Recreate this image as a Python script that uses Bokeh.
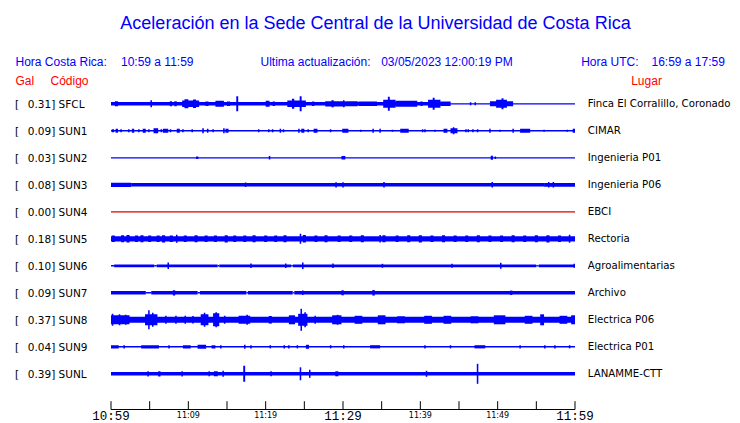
from bokeh.plotting import figure
from bokeh.models import Range1d, ColumnDataSource
from bokeh.core.properties import value
from bokeh.embed import file_html
from bokeh.resources import INLINE

# ---------------- data ----------------
title_text = "Aceleración en la Sede Central de la Universidad de Costa Rica"
hora_cr_label = "Hora Costa Rica:"
hora_cr_range = "10:59 a 11:59"
update_label = "Ultima actualización:"
update_value = "03/05/2023 12:00:19 PM"
hora_utc_label = "Hora UTC:"
hora_utc_range = "16:59 a 17:59"
col_gal = "Gal"
col_code = "Código"
col_place = "Lugar"

stations = ["SFCL", "SUN1", "SUN2", "SUN3", "SUN4", "SUN5",
            "SUN6", "SUN7", "SUN8", "SUN9", "SUNL"]
pga_gal = [0.31, 0.09, 0.03, 0.08, 0.00, 0.18, 0.10, 0.09, 0.37, 0.04, 0.39]
places = ["Finca El Corralillo, Coronado", "CIMAR", "Ingenieria P01",
          "Ingenieria P06", "EBCI", "Rectoria", "Agroalimentarias",
          "Archivo", "Electrica P06", "Electrica P01", "LANAMME-CTT"]

# time axis (minutes after 10:59)
tick_minutes = [0, 5, 10, 15, 20, 25, 30, 35, 40, 45, 50, 55, 60]
major_tick_minutes = [0, 30, 60]
major_tick_labels = ["10:59", "11:29", "11:59"]
minor_tick_minutes = [10, 20, 40, 50]
minor_tick_labels = ["11:09", "11:19", "11:39", "11:49"]

# trace envelopes: (start_min, end_min, half amplitude)
SFCL_base = [(0, 43.9, 1.8), (43.9, 60, 0.65)]
SFCL_bursts = [(0.5, 0.9, 2.5), (5.1, 5.3, 3.5), (7.6, 7.9, 2.5), (8.2, 8.5, 2.5),
               (9.2, 11.4, 3.2), (9.5, 10.0, 4.5), (10.6, 11.0, 4.3),
               (12.2, 12.6, 2.3), (13.5, 14.6, 3.0), (15.0, 15.4, 2.2), (16.2, 16.45, 7.5),
               (20.0, 20.5, 3.0), (20.9, 21.2, 2.3), (22.8, 25.2, 3.2), (23.4, 23.7, 5.0),
               (24.4, 24.65, 7.5), (26.0, 26.3, 2.2), (27.7, 30.3, 2.6), (28.5, 28.8, 3.5),
               (30.3, 31.9, 2.5), (30.0, 30.2, 3.5), (32.0, 34.4, 2.3), (35.2, 36.8, 4.0),
               (35.8, 36.05, 7.0), (36.8, 39.6, 3.0), (40.0, 40.3, 2.2), (41.0, 42.6, 4.0),
               (41.6, 41.85, 6.0), (42.6, 43.9, 2.2), (46.4, 46.6, 1.5), (47.0, 47.2, 1.5),
               (49.0, 52.0, 2.5), (49.8, 51.2, 4.0), (50.5, 50.75, 5.5)]

SUN1_base = [(0, 60, 0.7)]
SUN1_bursts = [(0.1, 0.4, 1.5), (0.6, 0.9, 2.0), (1.2, 1.4, 1.5), (2.2, 2.4, 1.5), (2.7, 3.0, 2.0),
               (3.5, 3.7, 1.5), (4.1, 4.5, 2.0), (4.8, 5.0, 1.5), (5.5, 6.1, 2.5), (6.4, 6.6, 1.5),
               (6.7, 7.4, 2.0), (7.6, 7.8, 1.5), (8.5, 8.9, 2.0), (9.2, 9.4, 1.5), (10.4, 10.6, 1.5),
               (11.8, 12.0, 2.5), (12.4, 12.6, 2.0), (13.1, 13.3, 1.5), (14.5, 14.7, 2.5),
               (14.8, 15.2, 2.0), (19.0, 19.2, 1.5), (20.3, 20.5, 1.5), (20.8, 21.0, 1.5),
               (21.8, 22.0, 2.0), (22.2, 22.4, 1.5), (24.2, 24.4, 2.0), (24.6, 25.0, 2.0),
               (25.4, 25.6, 1.5), (26.2, 26.7, 2.0), (28.3, 28.5, 1.5), (29.9, 30.7, 2.0),
               (32.2, 32.4, 1.0), (33.8, 34.0, 2.0), (34.7, 34.9, 2.0), (36.3, 36.5, 1.0),
               (37.4, 38.5, 2.0), (40.2, 40.4, 1.5), (40.5, 40.7, 1.5), (41.8, 42.0, 1.0),
               (43.0, 43.5, 2.0), (43.9, 44.8, 2.5), (44.2, 44.4, 3.5), (45.8, 46.0, 1.5),
               (46.1, 46.3, 1.5), (46.7, 46.9, 1.5), (47.3, 47.5, 1.5), (48.9, 49.1, 2.0),
               (50.2, 50.4, 1.0), (51.9, 52.1, 2.0), (52.9, 54.2, 2.0), (55.9, 56.1, 1.0),
               (58.9, 59.1, 1.0), (59.7, 60.0, 2.0)]

SUN2_base = [(0, 60, 0.65)]
SUN2_bursts = [(11.0, 11.3, 1.2), (20.4, 20.6, 1.8), (29.8, 30.3, 1.7),
               (49.1, 49.4, 2.0), (49.6, 49.8, 1.2)]

SUN3_base = [(0, 2.6, 2.1), (2.6, 56.0, 1.7), (56.0, 60, 1.9)]
SUN3_bursts = [(17.3, 17.5, 2.3), (29.0, 29.2, 2.6), (29.9, 30.1, 2.6), (35.2, 35.4, 2.8),
               (49.2, 49.4, 2.8), (56.5, 56.7, 2.8), (57.1, 57.3, 2.8)]

SUN4_base = [(0, 60, 0.65)]
SUN4_bursts = []

SUN5_base = [(0, 60, 2.6)]
SUN5_bursts = [(0.1, 0.5, 3.3), (1.3, 1.7, 3.5), (2.0, 2.4, 3.8), (3.1, 3.5, 3.3), (3.8, 4.2, 3.5),
               (4.8, 5.2, 3.3), (5.9, 6.3, 3.3), (6.6, 7.0, 3.6), (7.6, 8.0, 3.3), (8.4, 8.6, 4.0),
               (9.4, 9.8, 3.3), (10.8, 11.2, 3.5), (12.1, 12.5, 3.3), (13.3, 13.7, 3.3),
               (14.7, 15.1, 3.6), (15.8, 16.2, 3.3), (17.1, 17.5, 3.3), (18.3, 18.7, 3.5),
               (19.8, 20.2, 3.3), (21.1, 21.5, 3.3), (22.3, 22.7, 3.5), (24.4, 24.6, 5.0),
               (24.8, 25.2, 3.8), (26.3, 26.7, 3.3), (27.6, 28.0, 3.5), (29.3, 29.7, 3.3),
               (30.8, 31.2, 3.3), (32.3, 32.7, 3.5), (34.7, 34.9, 3.8), (35.1, 35.5, 3.5),
               (36.8, 37.2, 3.3), (38.3, 38.7, 3.5), (39.8, 40.2, 3.6), (41.3, 41.7, 3.3),
               (42.8, 43.2, 3.5), (44.3, 44.7, 3.3), (45.8, 46.2, 3.3), (47.3, 47.7, 3.5),
               (48.8, 49.2, 3.3), (50.3, 50.7, 3.3), (51.8, 52.2, 3.5), (53.3, 53.7, 3.3),
               (54.8, 55.2, 3.5), (56.3, 56.7, 3.6), (57.8, 58.2, 3.3), (59.2, 59.4, 4.0)]

SUN6_base = [(0, 0.4, 0.7), (0.4, 5.6, 1.4), (5.6, 5.9, 0.7), (5.9, 13.8, 1.4), (13.8, 14.0, 0.7),
             (14.0, 23.3, 1.4), (23.3, 23.5, 0.7), (23.5, 55.0, 1.4), (55.0, 55.3, 0.7),
             (55.3, 60, 1.4)]
SUN6_bursts = [(7.3, 7.5, 3.2), (18.0, 18.2, 2.2), (22.5, 22.7, 2.2), (24.7, 24.9, 3.2),
               (28.6, 28.8, 2.2), (35.0, 35.2, 2.0), (44.0, 44.2, 2.0), (50.3, 50.5, 3.0),
               (59.8, 60.0, 2.0)]

SUN7_base = [(0, 4.5, 1.7), (4.5, 5.2, 0.7), (5.2, 11.2, 1.7), (11.2, 11.5, 0.7),
             (11.5, 17.5, 1.7), (17.5, 17.7, 0.7), (17.7, 23.5, 1.7), (23.5, 23.7, 0.7),
             (23.7, 60, 1.7)]
SUN7_bursts = [(8.0, 8.3, 2.6), (24.7, 24.9, 2.2), (29.8, 30.1, 2.5), (33.8, 34.1, 2.8),
               (51.6, 51.9, 2.2)]

SUN8_base = [(0, 60, 3.0)]
SUN8_bursts = [(0, 2.4, 4.5), (0.1, 0.3, 6.0), (1.0, 1.2, 5.5), (1.8, 2.0, 5.0), (4.4, 6.0, 5.5),
               (4.8, 5.0, 9.5), (5.3, 5.5, 7.0), (7.0, 7.2, 4.0), (8.3, 8.5, 4.0), (9.5, 9.7, 4.0),
               (10.5, 10.7, 3.8), (11.6, 12.6, 5.5), (12.0, 12.2, 7.0), (13.2, 14.0, 6.5),
               (13.5, 13.7, 7.5), (14.6, 14.8, 4.0), (16.5, 18.0, 4.0), (17.5, 17.7, 5.0),
               (20.4, 20.8, 3.8), (23.0, 23.8, 4.5), (24.2, 25.4, 6.0), (24.5, 24.7, 11.0),
               (25.0, 25.2, 7.5), (26.3, 26.5, 4.0), (28.6, 29.8, 4.5), (29.2, 29.4, 5.0),
               (31.5, 32.5, 4.0), (34.5, 35.5, 4.5), (37.0, 38.0, 3.5), (40.5, 41.5, 4.0),
               (43.0, 44.0, 4.0), (46.5, 47.5, 3.5), (49.5, 51.0, 4.5), (53.5, 54.5, 4.0),
               (55.5, 56.0, 5.5), (58.0, 59.0, 4.0), (59.5, 60.0, 4.5)]

SUN9_base = [(0, 60, 0.7)]
SUN9_bursts = [(0, 1.0, 1.6), (1.6, 1.8, 1.6), (3.9, 6.2, 1.6), (7.4, 7.6, 1.6), (9.3, 10.3, 1.6),
               (11.2, 12.3, 2.0), (13.0, 13.5, 1.6), (14.1, 14.3, 1.6), (17.2, 17.4, 2.0),
               (18.0, 18.2, 1.6), (20.5, 20.7, 1.6), (22.3, 22.5, 1.6), (22.9, 23.1, 1.6),
               (24.0, 24.2, 1.6), (25.2, 25.6, 2.0), (28.3, 28.5, 1.6), (30.0, 30.2, 1.6),
               (33.5, 34.8, 1.6), (40.5, 40.7, 1.6), (43.8, 44.0, 1.6), (47.0, 48.4, 1.6),
               (52.8, 53.0, 1.6), (56.0, 56.2, 1.6), (57.3, 57.5, 1.6), (59.2, 59.4, 1.6)]

SUNL_base = [(0, 60, 1.8)]
SUNL_bursts = [(4.7, 4.9, 2.6), (6.1, 6.4, 2.6), (9.1, 9.3, 2.6), (12.6, 12.8, 2.5),
               (13.3, 13.8, 2.5), (14.4, 14.6, 3.0), (17.1, 17.35, 8.0), (20.6, 20.8, 2.5),
               (24.4, 24.6, 6.5), (25.6, 25.8, 4.0), (29.0, 29.4, 2.5), (40.7, 40.9, 3.0),
               (47.3, 47.5, 10.0)]

trace_base = [SFCL_base, SUN1_base, SUN2_base, SUN3_base, SUN4_base, SUN5_base,
              SUN6_base, SUN7_base, SUN8_base, SUN9_base, SUNL_base]
trace_bursts = [SFCL_bursts, SUN1_bursts, SUN2_bursts, SUN3_bursts, SUN4_bursts, SUN5_bursts,
                SUN6_bursts, SUN7_bursts, SUN8_bursts, SUN9_bursts, SUNL_bursts]

# ---------------- layout / style ----------------
BLUE = "#0000ff"
RED = "#ff0000"
TRACE_RED = "#e00000"
trace_colors = [BLUE, BLUE, BLUE, BLUE, TRACE_RED, BLUE, BLUE, BLUE, BLUE, BLUE, BLUE]

W, H = 740, 423
X0 = 110.5
PPM = 464.0 / 60.0


def mx(X):
    return (X - X0) / PPM


def my(Y):
    return Y


p = figure(width=W, height=H, output_backend="svg", toolbar_location=None,
           x_range=Range1d(mx(0), mx(W)), y_range=Range1d(H, 0),
           x_axis_type=None, y_axis_type=None, min_border=0)
p.outline_line_color = None
p.background_fill_color = "white"
p.border_fill_color = "white"

# traces
L, R, T, B, C = [], [], [], [], []
for i in range(len(stations)):
    yc = my(103.3 + 27 * i)
    for seg in trace_base[i] + trace_bursts[i]:
        s, e, a = seg
        L.append(s)
        R.append(e)
        T.append(yc - a)
        B.append(yc + a)
        C.append(trace_colors[i])
p.quad(left="left", right="right", top="top", bottom="bottom", color="color",
       line_color=None, source=ColumnDataSource(dict(left=L, right=R, top=T, bottom=B, color=C)))

# station labels
row_y = [my(103.3 + 27 * i) for i in range(len(stations))]
p.text(x=[mx(14.5)] * len(stations), y=row_y, text=["["] * len(stations),
       text_font=value("DejaVu Sans"), text_font_size="10.5px", text_color="black",
       text_align="left", text_baseline="middle")
p.text(x=[mx(27.3)] * len(stations), y=row_y,
       text=[f"{v:.2f}] {s}" for v, s in zip(pga_gal, stations)],
       text_font=value("DejaVu Sans"), text_font_size="10.5px", text_color="black",
       text_align="left", text_baseline="middle")
p.text(x=[mx(587.3)] * len(places), y=row_y, text=places,
       text_font=value("DejaVu Sans"), text_font_size="10.2px", text_color="black",
       text_align="left", text_baseline="middle")

# title
p.text(x=[mx(375)], y=[my(22)], text=[title_text], text_font=value("Liberation Sans"),
       text_font_size="18px", text_color=BLUE, text_align="center", text_baseline="middle")

# header
p.text(x=[mx(15), mx(120.5), mx(260), mx(380.7), mx(580.7), mx(651)],
       y=[my(61)] * 6,
       text=[hora_cr_label, hora_cr_range, update_label, update_value, hora_utc_label, hora_utc_range],
       text_font=value("Liberation Sans"), text_font_size="12px", text_color=BLUE,
       text_align="left", text_baseline="middle")
p.text(x=[mx(15), mx(50), mx(630.7)], y=[my(80.5)] * 3,
       text=[col_gal, col_code, col_place],
       text_font=value("Liberation Sans"), text_font_size="12px", text_color=RED,
       text_align="left", text_baseline="middle")

# time axis
p.segment(x0=[tick_minutes[0]], x1=[tick_minutes[-1]], y0=[my(409)], y1=[my(409)],
          line_color="black", line_width=1)
p.segment(x0=tick_minutes, x1=tick_minutes, y0=[my(400.7)] * len(tick_minutes),
          y1=[my(409)] * len(tick_minutes), line_color="black", line_width=1)
p.text(x=major_tick_minutes, y=[my(416.4)] * len(major_tick_minutes), text=major_tick_labels,
       text_font=value("Liberation Mono"), text_font_size="12.5px", text_color="black",
       text_align="center", text_baseline="middle")
p.text(x=minor_tick_minutes, y=[my(414.7)] * len(minor_tick_minutes), text=minor_tick_labels,
       text_font=value("DejaVu Sans"), text_font_size="8px", text_color="black",
       text_align="center", text_baseline="middle")

open("out.html", "w").write(file_html(p, INLINE))
